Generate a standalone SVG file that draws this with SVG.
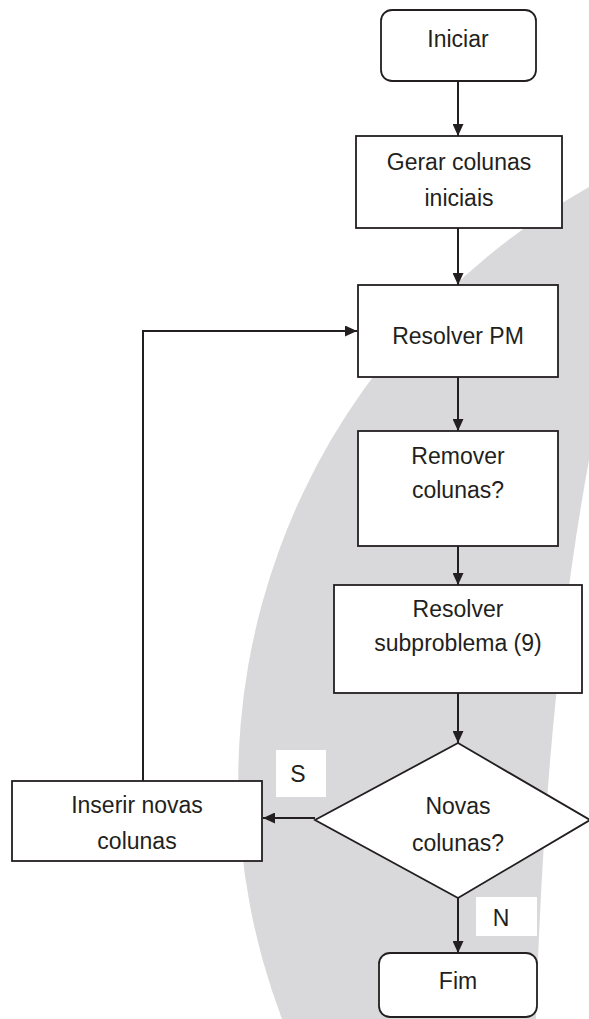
<svg xmlns="http://www.w3.org/2000/svg" width="589" height="1019" viewBox="0 0 589 1019">
<defs>
<style>
.box{fill:#fff;stroke:#231f20;stroke-width:1.8}
.t{font-family:"Liberation Sans",Arial,sans-serif;font-size:23px;fill:#231f20;text-anchor:middle}
.c{fill:none;stroke:#231f20;stroke-width:2}
.lbl{fill:#fff;stroke:none}
</style>
<marker id="ah" markerWidth="12" markerHeight="11" refX="12" refY="5.5" orient="auto" markerUnits="userSpaceOnUse">
<path d="M0,0 L12,5.5 L0,11 Z" fill="#231f20"/>
</marker>
</defs>
<rect width="589" height="1019" fill="#fff"/>
<path id="backdrop" d="M589,187 A700 685 0 0 0 282,1019 L536,1019 Q545,700 589,460 Z" fill="#d9d9db"/>
<g id="connectors">
<line class="c" x1="458" y1="81" x2="458" y2="136" marker-end="url(#ah)"/>
<line class="c" x1="458" y1="228" x2="458" y2="285" marker-end="url(#ah)"/>
<line class="c" x1="458" y1="377" x2="458" y2="431" marker-end="url(#ah)"/>
<line class="c" x1="458" y1="546" x2="458" y2="585" marker-end="url(#ah)"/>
<line class="c" x1="458" y1="693" x2="458" y2="743" marker-end="url(#ah)"/>
<line class="c" x1="458" y1="898" x2="458" y2="953" marker-end="url(#ah)"/>
<line class="c" x1="315" y1="818" x2="263" y2="818" marker-end="url(#ah)"/>
<polyline class="c" points="143,781 143,331 357,331" marker-end="url(#ah)"/>
</g>
<g id="n_iniciar">
<rect class="box" x="381" y="10" width="155" height="71" rx="11"/>
<text class="t" x="458" y="47">Iniciar</text>
</g>
<g id="n_gerar">
<rect class="box" x="356" y="136" width="206" height="92"/>
<text class="t" x="459" y="170">Gerar colunas</text>
<text class="t" x="459" y="206">iniciais</text>
</g>
<g id="n_resolverpm">
<rect class="box" x="358" y="285" width="200" height="92"/>
<text class="t" x="458" y="344">Resolver PM</text>
</g>
<g id="n_remover">
<rect class="box" x="358" y="431" width="200" height="115"/>
<text class="t" x="458" y="464">Remover</text>
<text class="t" x="458" y="498">colunas?</text>
</g>
<g id="n_sub">
<rect class="box" x="334" y="585" width="248" height="108"/>
<text class="t" x="458" y="617">Resolver</text>
<text class="t" x="458" y="651">subproblema (9)</text>
</g>
<g id="n_decisao">
<polygon class="box" points="458,743 590,820 458,898 315,820"/>
<text class="t" x="458" y="814">Novas</text>
<text class="t" x="458" y="851">colunas?</text>
</g>
<g id="n_inserir">
<rect class="box" x="12" y="781" width="250" height="80"/>
<text class="t" x="137" y="813">Inserir novas</text>
<text class="t" x="137" y="849">colunas</text>
</g>
<g id="n_fim">
<rect class="box" x="379" y="953" width="158" height="64" rx="11"/>
<text class="t" x="458" y="989">Fim</text>
</g>
<g id="label_s">
<rect class="lbl" x="276" y="750" width="50" height="47"/>
<text class="t" x="298" y="782" font-size="22">S</text>
</g>
<g id="label_n">
<rect class="lbl" x="476" y="897" width="61" height="39"/>
<text class="t" x="501" y="926" font-size="22">N</text>
</g>
</svg>
